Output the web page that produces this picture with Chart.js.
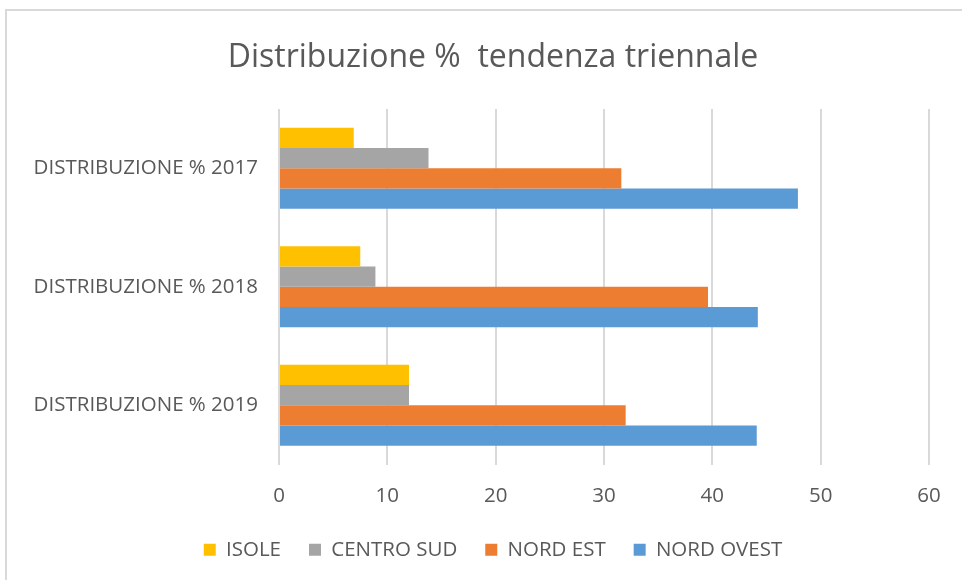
<!DOCTYPE html>
<html>
<head>
<meta charset="utf-8">
<script src="https://cdn.jsdelivr.net/npm/chart.js@4/dist/chart.umd.min.js"></script>
<style>
  html, body { margin: 0; padding: 0; background: #fff; }
  #wrap { position: absolute; left: 0; top: 0; width: 962px; height: 580px; }
  #frame { position: absolute; left: 5px; top: 9px; width: 980px; height: 600px;
           border-left: 2px solid #d9d9d9; border-top: 2px solid #d9d9d9; box-sizing: border-box; }
  canvas { position: absolute; left: 0; top: 0; }
</style>
</head>
<body>
<div id="wrap">
  <div id="frame"></div>
  <canvas id="c" width="962" height="580"></canvas>
</div>
<script>
const categories = ["DISTRIBUZIONE % 2017", "DISTRIBUZIONE % 2018", "DISTRIBUZIONE % 2019"];
const seriesNames = ["ISOLE", "CENTRO SUD", "NORD EST", "NORD OVEST"];
const isole = [6.9, 7.5, 12.0];
const centroSud = [13.8, 8.9, 12.0];
const nordEst = [31.6, 39.6, 32.0];
const nordOvest = [47.9, 44.2, 44.1];
const xTicks = [0, 10, 20, 30, 40, 50, 60];
const colors = ["#FFC000", "#A5A5A5", "#ED7D31", "#5B9BD5"];

const FONT = "'Open Sans', Lato, sans-serif";
const TEXT = "#595959";
const seriesValues = [isole, centroSud, nordEst, nordOvest];

// let the category labels extend left of the axis box (they sit in the left padding)
const unclipLabels = {
  id: "unclipLabels",
  afterLayout(chart) {
    const s = chart.scales.y;
    s._computeLabelArea = () => ({ top: 0, left: 0, bottom: chart.height, right: s.right });
  }
};

new Chart(document.getElementById("c"), {
  type: "bar",
  data: {
    labels: categories,
    datasets: seriesNames.map((n, i) => ({
      label: n,
      data: seriesValues[i],
      backgroundColor: colors[i],
      borderWidth: 0,
      categoryPercentage: 0.684,
      barPercentage: 1.0
    }))
  },
  plugins: [unclipLabels],
  options: {
    indexAxis: "y",
    responsive: false,
    animation: false,
    devicePixelRatio: 1,
    layout: { padding: { left: 57, right: 33, top: 10, bottom: 10 } },
    plugins: {
      title: {
        display: true,
        text: "Distribuzione %  tendenza triennale",
        color: TEXT,
        font: { family: FONT, size: 32, weight: "normal" },
        padding: { top: 28.5, bottom: 32 }
      },
      legend: {
        position: "bottom",
        labels: {
          color: TEXT,
          font: { family: FONT, size: 20.5 },
          boxWidth: 12,
          boxHeight: 12,
          padding: 28
        }
      },
      tooltip: { enabled: false }
    },
    scales: {
      x: {
        min: 0,
        max: 60,
        afterBuildTicks: (s) => { s.ticks = xTicks.map(v => ({ value: v })); },
        grid: { color: "#d9d9d9", lineWidth: 2, drawTicks: false },
        border: { display: false },
        ticks: { color: TEXT, font: { family: FONT, size: 20.5 }, padding: 19 },
        afterFit: (s) => { s.height = 47; }
      },
      y: {
        grid: { display: false, drawTicks: false },
        border: { display: false },
        ticks: { color: TEXT, font: { family: FONT, size: 20.5 }, padding: 21 },
        afterFit: (s) => { s.width = 222; }
      }
    }
  }
});
</script>
</body>
</html>
